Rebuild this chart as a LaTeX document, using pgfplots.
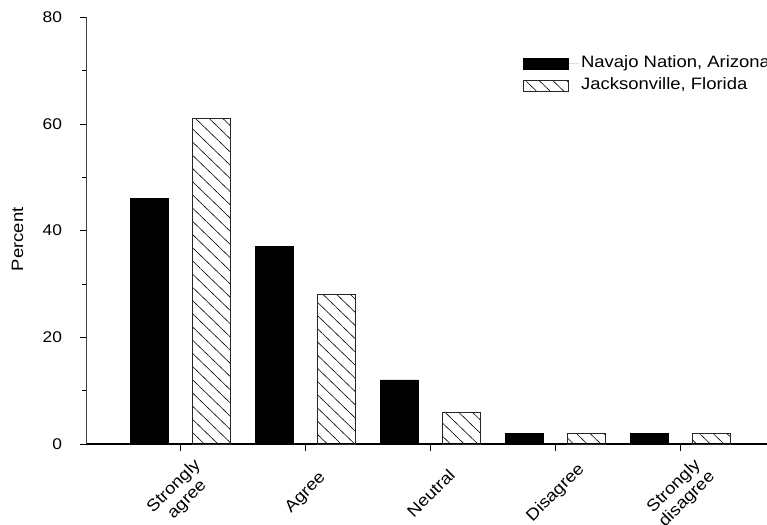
\documentclass[border=0pt]{standalone}
\usepackage{fontspec}
\setmainfont{Liberation Sans}[FakeStretch=1.12]
\usepackage{pgfplots}
\pgfplotsset{compat=1.18}
\usetikzlibrary{patterns.meta}
\begin{document}
\begin{tikzpicture}
\path[use as bounding box] (0,0) rectangle (767pt,524pt);
\begin{axis}[
  at={(86.7pt,80pt)}, anchor=south west,
  scale only axis, width=694pt, height=426.7pt,
  xmin=-0.752, xmax=4.8, ymin=0, ymax=80,
  axis x line*=bottom, axis y line*=left,
  x axis line style={line width=1.2pt, black, -},
  y axis line style={line width=0.7pt, black!75, -},
  ybar,
  xtick={0,1,2,3,4},
  xticklabels={{Strongly\\agree},Agree,Neutral,Disagree,{Strongly\\disagree}},
  ytick={0,20,40,60,80},
  minor ytick={10,30,50,70},
  tick align=outside,
  major tick length=7pt, minor tick length=4.5pt,
  every tick/.style={black, line width=0.6pt},
  /pgf/number format/assume math mode=true,
  xticklabel style={rotate=45, anchor=center, align=center, font=\fontsize{16.5}{18.5}\selectfont},
  xticklabel shift=42pt,
  yticklabel style={anchor=east, inner sep=0pt, font=\fontsize{15.5}{18}\selectfont},
  every y tick label/.append style={xshift=-17.5pt},
  ylabel={Percent},
  every axis y label/.style={at={(axis description cs:-0.0997,0.48)}, rotate=90, anchor=center, font=\fontsize{16.5}{19}\selectfont},
  legend image code/.code={\draw[#1, line width=0.6pt] (0pt,-5.5pt) rectangle (45pt,5.5pt); \path[draw=none] (0pt,0pt) -- (56pt,0pt);},
  legend cell align=left,
  legend style={at={(axis description cs:0.628,0.9145)}, anchor=north west, draw=none, fill=none,
    inner sep=0pt, row sep=2pt, font=\fontsize{16.5}{19}\selectfont,
    nodes={text height=12pt, text depth=4pt, inner sep=2pt}},
]
\addplot[ybar, bar width=38pt, bar shift=-31pt, fill=black, draw=black, line width=0.6pt]
  coordinates {(0,46) (1,37) (2,12) (3,2) (4,2)};
\addlegendentry{Navajo Nation, Arizona}
\addplot[ybar, bar width=38pt, bar shift=31pt, draw=black!85, line width=0.6pt,
  pattern={Lines[angle=-44, distance=9.5pt, line width=0.6pt]}]
  coordinates {(0,61) (1,28) (2,6) (3,2) (4,2)};
\addlegendentry{Jacksonville, Florida}
\end{axis}
\end{tikzpicture}
\end{document}
